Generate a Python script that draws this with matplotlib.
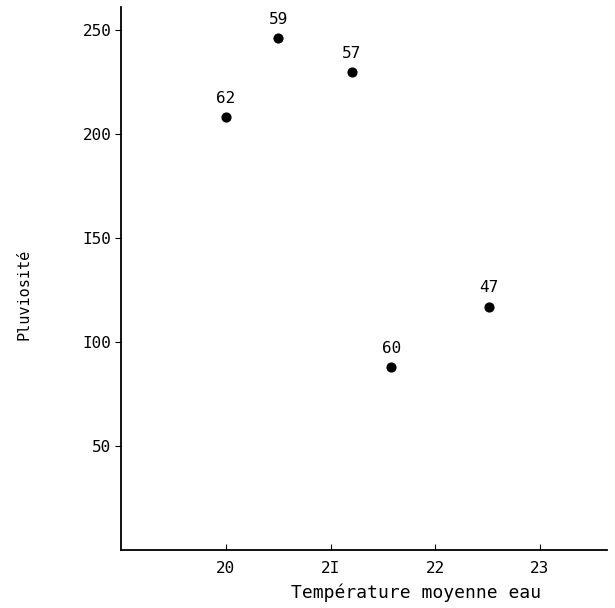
import matplotlib.pyplot as plt

# mean water temperature vs rainfall, one point per year
temperature = [20.0, 20.5, 21.2, 21.58, 22.51]
rainfall = [208, 246, 230, 88, 117]
years = ['62', '59', '57', '60', '47']

xticks = [20, 21, 22, 23]
xtick_labels = ['20', '2I', '22', '23']
yticks = [50, 100, 150, 200, 250]
ytick_labels = ['50', 'I00', 'I50', '200', '250']

font = 'DejaVu Sans Mono'

fig = plt.figure(figsize=(6.15, 6.08), dpi=100)
ax = fig.add_axes([0.197, 0.096, 0.79, 0.892])

ax.scatter(temperature, rainfall, s=40, color='black', zorder=3)
for x, y, lab in zip(temperature, rainfall, years):
    ax.annotate(lab, (x, y), xytext=(0, 8), textcoords='offset points',
                ha='center', va='bottom', fontsize=11.5, family=font)

ax.set_xlim(19.0, 23.64)
ax.set_ylim(0, 261)

ax.spines['top'].set_visible(False)
ax.spines['right'].set_visible(False)
for s in ['left', 'bottom']:
    ax.spines[s].set_linewidth(1.3)

ax.set_xticks(xticks)
ax.set_xticklabels(xtick_labels, family=font, fontsize=11.5)
ax.set_yticks(yticks)
ax.set_yticklabels(ytick_labels, family=font, fontsize=11.5)
ax.tick_params(axis='x', direction='in', length=4, pad=8)
ax.tick_params(axis='y', direction='out', length=4, pad=3)

ax.set_xlabel('Température moyenne eau', family=font, fontsize=13, labelpad=0)
ax.xaxis.set_label_coords(0.608, -0.062)
ax.set_ylabel('Pluviosité', family=font, fontsize=11)
ax.yaxis.set_label_coords(-0.185, 0.47)

fig.savefig('out.png', dpi=100)
